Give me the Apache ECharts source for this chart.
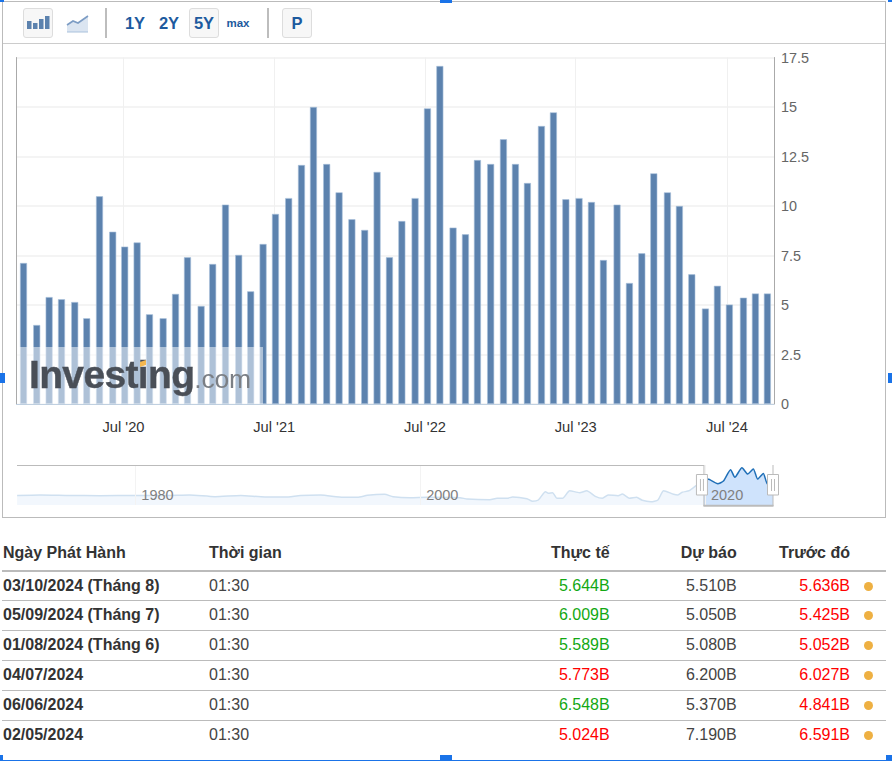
<!DOCTYPE html>
<html lang="vi"><head><meta charset="utf-8">
<script src="https://cdn.jsdelivr.net/npm/echarts@6/dist/echarts.min.js"></script>
<style>
html,body{margin:0;padding:0;background:#fff;width:892px;height:761px;overflow:hidden;font-family:"Liberation Sans",Arial,sans-serif}
#chart{position:absolute;left:0;top:0;width:892px;height:530px}
.abs{position:absolute}
.btn{position:absolute;top:8px;width:28px;height:28px;background:#f7f7f7;border:1px solid #ddd;border-radius:3px}
.tb{position:absolute;top:12px;height:22px;line-height:22px;font-weight:bold;color:#1d5a9e;font-size:16px;text-align:center}
.sep{position:absolute;top:8px;width:1.5px;height:30px;background:#bdbdbd}
.cell{position:absolute;height:20px;line-height:20px;font-size:16px;color:#444;white-space:nowrap}
.r{text-align:right;width:120px}
.hl{position:absolute;left:2px;width:884px;background:#bbb}
.blue{position:absolute;background:#1a73e8}
</style></head><body>
<div id="chart"></div>
<div id="chrome"></div>
<script>
// ---- main chart data ----
const releaseDates = ['2019-11-02','2019-12-04','2020-01-03','2020-02-02','2020-03-05','2020-04-03','2020-05-04','2020-06-05','2020-07-04','2020-08-03','2020-09-02','2020-10-05','2020-11-04','2020-12-03','2021-01-05','2021-02-02','2021-03-05','2021-04-06','2021-05-05','2021-06-04','2021-07-04','2021-08-05','2021-09-05','2021-10-04','2021-11-05','2021-12-05','2022-01-05','2022-02-05','2022-03-07','2022-04-06','2022-05-06','2022-06-07','2022-07-07','2022-08-06','2022-09-07','2022-10-07','2022-11-05','2022-12-07','2023-01-07','2023-02-05','2023-03-06','2023-04-09','2023-05-08','2023-06-07','2023-07-09','2023-08-08','2023-09-06','2023-10-09','2023-11-08','2023-12-08','2024-01-06','2024-02-08','2024-03-08','2024-04-07','2024-05-10','2024-06-08','2024-07-07','2024-08-10','2024-09-08','2024-10-07'];
const actualValues = [7.12,3.99,5.40,5.29,5.15,4.33,10.49,8.70,7.95,8.16,4.53,4.33,5.56,7.41,4.95,7.07,10.07,7.53,5.69,8.08,9.60,10.40,12.07,15.0,12.12,10.69,9.33,8.79,11.72,7.41,9.24,10.40,14.93,17.07,8.91,8.57,12.32,12.12,13.37,12.12,11.16,14.04,14.73,10.34,10.40,10.20,7.27,10.07,6.11,7.61,11.65,10.69,10.0,6.55,4.82,5.97,5.02,5.37,5.58,5.58];
const julyTicks = ['2020-07-01','2021-07-01','2022-07-01','2023-07-01','2024-07-01'];
const julyLabels = ["Jul '20","Jul '21","Jul '22","Jul '23","Jul '24"];
// ---- navigator data ----
const navYears = [1971.7,1973.3,1975.4,1977.5,1980.0,1982.1,1983.8,1985.6,1987.4,1989.1,1990.5,1991.6,1993.0,1994.6,1995.6,1996.3,1997.5,1998.1,1999.3,2000.5,2002.8,2003.3,2004.9,2005.4,2006.1,2006.5,2007.5,2007.9,2008.3,2008.8,2009.0,2009.3,2009.6,2010.0,2010.5,2011.2,2011.7,2012.3,2012.8,2013.2,2013.9,2014.2,2014.7,2015.2,2015.6,2016.2,2016.7,2017.1,2017.8,2018.1,2018.4,2018.9,2019.5,2019.93];
const navValues = [4.36,4.59,4.36,4.27,4.36,4.36,4.59,3.81,4.36,3.67,3.67,4.36,4.59,3.53,3.53,4.45,4.91,3.81,3.35,3.53,3.35,2.75,2.43,3.07,3.07,3.67,2.89,1.70,2.29,6.10,5.37,5.64,3.07,3.07,6.56,5.64,6.56,3.99,3.07,4.59,4.27,5.05,3.07,3.53,2.16,1.51,2.29,6.56,4.91,4.59,5.83,6.56,9.50,11.47];
const windowYears = [2019.93,2020.2,2020.9,2021.3,2021.8,2022.1,2022.6,2023.0,2023.4,2023.7,2024.1,2024.4,2024.78];
const windowValues = [11.47,11.93,9.77,11.0,16.2,12.7,17.1,14.2,16.5,11.9,14.5,9.5,9.5];
const navTicks = [1980,2000,2020];
// ---- table data ----
const tableHeaders = ['Ngày Phát Hành','Thời gian','Thực tế','Dự báo','Trước đó'];
const releaseCol = ['03/10/2024 (Tháng 8)','05/09/2024 (Tháng 7)','01/08/2024 (Tháng 6)','04/07/2024','06/06/2024','02/05/2024'];
const timeCol = ['01:30','01:30','01:30','01:30','01:30','01:30'];
const actualCol = ['5.644B','6.009B','5.589B','5.773B','6.548B','5.024B'];
const actualGood = [true,true,true,false,true,false];
const forecastCol = ['5.510B','5.050B','5.080B','6.200B','5.370B','7.190B'];
const previousCol = ['5.636B','5.425B','5.052B','6.027B','4.841B','6.591B'];

const font = '"Liberation Sans",Arial,sans-serif';
const ms = d => Date.parse(d);
const chart = echarts.init(document.getElementById('chart'), null, {renderer:'svg'});
const gridCol = '#f0f0f0';
chart.setOption({
  animation:false,
  textStyle:{fontFamily:font},
  grid:[
    {left:16.5,right:118,top:57.5,height:346.5},
    {left:17,right:118,top:465,height:40}
  ],
  xAxis:[
    {type:'value',gridIndex:0,min:ms('2019-10-16'),max:ms('2024-10-23'),scale:true,
     axisLine:{show:true,onZero:false,lineStyle:{color:'#c0d0e0',width:1}},
     axisTick:{show:false,customValues:julyTicks.map(ms)},
     splitLine:{show:true,lineStyle:{color:gridCol,width:1}},
     axisLabel:{customValues:julyTicks.map(ms),margin:15,fontSize:14.7,color:'#333',hideOverlap:false,
       formatter:v=>{const i=julyTicks.findIndex(d=>ms(d)===+v);return i>=0?julyLabels[i]:'';}}},
    {type:'value',gridIndex:1,min:1971.69,max:2024.85,scale:true,
     axisLine:{show:false},
     axisTick:{show:false,customValues:navTicks},
     splitLine:{show:true,lineStyle:{color:'#f3f3f3',width:1}},
     axisLabel:{customValues:navTicks,inside:true,margin:3,fontSize:14.5,color:'#808080',align:'left',padding:[0,0,0,6],formatter:v=>String(v)},
     z:5}
  ],
  yAxis:[
    {type:'value',gridIndex:0,position:'right',min:0,max:17.5,interval:2.5,
     axisLine:{show:true,lineStyle:{color:'#aaa',width:1}},axisTick:{show:false},
     splitLine:{show:true,lineStyle:{color:gridCol,width:1.5}},
     axisLabel:{margin:7,fontSize:14.4,color:'#666'}},
    {type:'value',gridIndex:0,position:'left',min:0,max:17.5,interval:2.5,
     axisLine:{show:true,lineStyle:{color:'#aaa',width:1}},axisTick:{show:false},splitLine:{show:false},axisLabel:{show:false}},
    {type:'value',gridIndex:1,min:0,max:18.35,show:false}
  ],
  series:[
    {type:'bar',xAxisIndex:0,yAxisIndex:0,barWidth:7,
     data:releaseDates.map((d,i)=>[ms(d),actualValues[i]]),
     itemStyle:{color:'#5c82ae',borderColor:'#a9c1dc',borderWidth:0.6}},
    {type:'line',xAxisIndex:1,yAxisIndex:2,symbol:'none',smooth:0.2,
     data:navYears.map((y,i)=>[y,navValues[i]]),
     lineStyle:{color:'#cfe0f0',width:1.5},areaStyle:{color:'#f2f7fd',opacity:1}},
    {type:'line',xAxisIndex:1,yAxisIndex:2,symbol:'none',smooth:0.2,
     data:windowYears.map((y,i)=>[y,windowValues[i]]),
     lineStyle:{color:'#2070b8',width:1.5},areaStyle:{color:'#cfe3fc',opacity:1}}
  ]
});
// Navigator window outline, positioned from the library's own scale
const navX = y => chart.convertToPixel({xAxisIndex:1}, y);
const xL = navX(windowYears[0]), xR = navX(windowYears[windowYears.length-1]);
const seg = (x1,y1,x2,y2,w) => ({type:'line',silent:true,z:10,shape:{x1,y1,x2,y2},style:{stroke:'#bbb',lineWidth:w||1}});
const handle = x => ([
  {type:'rect',silent:true,z:11,shape:{x:x-5.5,y:474.5,width:11,height:20.5},style:{fill:'#fff',stroke:'#bbb',lineWidth:1}},
  {...seg(x-1.5,479,x-1.5,491),z:12},{...seg(x+1.5,479,x+1.5,491),z:12}
]);
chart.setOption({graphic:[
  seg(17,465.5,xL,465.5,1.2),seg(xL,465,xL,506),seg(xL-.5,505.8,xR+.5,505.8,2),seg(xR,465,xR,506),
  ...handle(xL-2),...handle(xR)
]});

// ---- page chrome and table (HTML) ----
const c = document.getElementById('chrome');
let h = '';
// frame
h += '<div class="abs" style="left:2px;top:1px;width:882px;height:515px;border:1px solid #bbb;border-width:1.5px 1px 1.5px 1.5px"></div>';
h += '<div class="abs" style="left:3px;top:43px;width:882px;height:1px;background:#ccc"></div>';
// toolbar
h += '<div class="btn" style="left:23px"></div><div class="btn" style="left:189px"></div><div class="btn" style="left:282px"></div>';
h += '<svg class="abs" style="left:23px;top:8px" width="30" height="30"><g fill="#5c82ae"><rect x="4" y="13" width="4.5" height="8"/><rect x="10" y="15" width="4.5" height="6"/><rect x="16" y="11" width="4.5" height="10"/><rect x="22" y="8" width="4.5" height="13"/></g></svg>';
h += '<svg class="abs" style="left:66px;top:14px" width="24" height="20"><path d="M1 11 L7 7 L12 9 L22 2 L22 18 L1 18Z" fill="#dbe5f1"/><path d="M1 11 L7 7 L12 9 L22 2" fill="none" stroke="#7c9cc4" stroke-width="1.6"/><path d="M1 18 H22" stroke="#a9c1dc" stroke-width="1"/></svg>';
h += '<div class="sep" style="left:105px"></div><div class="sep" style="left:267px"></div>';
[['1Y',120,30,16.5],['2Y',154,30,16.5],['5Y',189,30,16.5],['max',223,30,11.5],['P',282,30,16.5]].forEach(b=>{
  h += `<div class="tb" style="left:${b[1]}px;width:${b[2]}px;font-size:${b[3]}px">${b[0]}</div>`;
});
// watermark
h += '<div class="abs" style="left:17px;top:347px;width:245.5px;height:57px;background:rgba(255,255,255,.5)"></div>';
h += '<div class="abs" style="left:29px;top:352px;height:46px;line-height:46px;font-size:39px;font-weight:bold;letter-spacing:-.65px;color:#4a4f57;-webkit-text-stroke:.4px #4a4f57;filter:blur(.6px);white-space:nowrap">Investing<span style="font-weight:normal;font-size:26.5px;letter-spacing:-.2px;color:#7b7f85;-webkit-text-stroke:0">.com</span></div>';
h += '<div class="abs" style="left:140px;top:361px;width:6px;height:5px;background:#f5b74f;transform:skewY(-20deg)"></div>';
// table headers
const rightEdges = [609.7,736.7,850];
h += `<div class="cell" style="left:3px;top:543px;font-weight:bold;color:#333">${tableHeaders[0]}</div>`;
h += `<div class="cell" style="left:209px;top:543px;font-weight:bold;color:#333">${tableHeaders[1]}</div>`;
rightEdges.forEach((e,i)=>{h += `<div class="cell r" style="left:${e-120}px;top:543px;font-weight:bold;color:#333">${tableHeaders[i+2]}</div>`;});
h += '<div class="hl" style="top:569.5px;height:2.5px"></div>';
releaseCol.forEach((d,i)=>{
  const t = 575.5+i*29.8;
  h += `<div class="cell" style="left:3px;top:${t}px;font-weight:bold;color:#333">${d}</div>`;
  h += `<div class="cell" style="left:209px;top:${t}px">${timeCol[i]}</div>`;
  h += `<div class="cell r" style="left:${rightEdges[0]-120}px;top:${t}px;color:${actualGood[i]?'#13a813':'#ff0000'}">${actualCol[i]}</div>`;
  h += `<div class="cell r" style="left:${rightEdges[1]-120}px;top:${t}px">${forecastCol[i]}</div>`;
  h += `<div class="cell r" style="left:${rightEdges[2]-120}px;top:${t}px;color:#ff0000">${previousCol[i]}</div>`;
  h += `<div class="abs" style="left:864px;top:${t+6}px;width:9px;height:9px;border-radius:50%;background:#eeb042"></div>`;
  if(i<5) h += `<div class="hl" style="top:${600+i*29.9}px;height:${i==2||i==4?1.5:1.2}px"></div>`;
});
// selection markers around the screenshot
[[0,0,4,2],[440,0,12,3],[0,373,5,10],[888,373,4,10],[0,755,3,6],[440,755,12,6],[886,755,6,6],[888,0,4,2]].forEach(b=>{
  h += `<div class="blue" style="left:${b[0]}px;top:${b[1]}px;width:${b[2]}px;height:${b[3]}px"></div>`;
});
h += '<div class="blue" style="left:3px;top:759.5px;width:883px;height:1.5px"></div>';
c.innerHTML = h;
</script>
</body></html>
